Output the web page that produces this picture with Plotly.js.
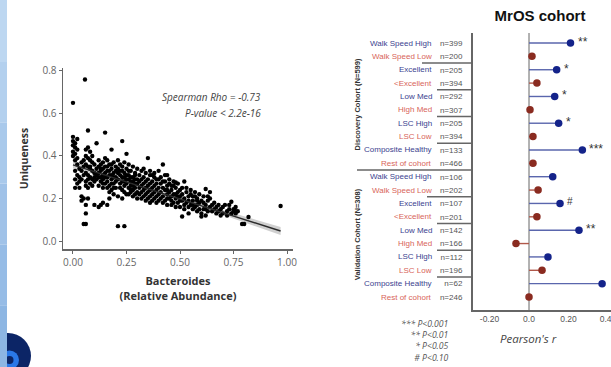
<!DOCTYPE html>
<html>
<head>
<meta charset="utf-8">
<script src="https://cdn.plot.ly/plotly-3.0.1.min.js"></script>
<style>
html,body{margin:0;padding:0;background:#fff;}
#chart{width:611px;height:367px;}
</style>
</head>
<body>
<div id="chart"></div>
<script>
// ---------- Left panel: Bacteroides vs Uniqueness ----------
const bx = [
0.00,0.00,0.00,0.01,0.00,0.01,0.00,0.01,0.00,0.02,0.02,0.01,0.02,0.03,0.02,0.03,0.01,0.02,0.03,0.01,0.04,0.04,0.05,0.04,0.05,0.04,0.04,0.05,0.03,0.05,0.02,0.01,
0.056,0.07,0.05,0.06,0.06,0.06,0.07,0.06,0.07,0.08,0.06,0.07,0.08,0.09,0.06,0.07,0.08,0.09,0.06,0.07,0.08,0.09,0.10,0.10,0.06,0.08,0.09,0.07,0.10,0.10,0.08,0.09,0.10,0.06,0.07,
0.11,0.15,0.12,0.13,0.14,0.16,0.17,0.18,0.12,0.13,0.14,0.15,0.16,0.17,0.18,0.19,0.11,0.12,0.13,0.14,0.15,0.16,0.17,0.18,0.19,0.20,0.11,0.12,0.13,0.14,0.15,0.16,0.17,0.18,0.19,0.20,0.12,0.14,0.16,0.18,0.20,0.13,0.15,0.17,0.19,0.11,0.14,0.16,0.18,0.20,0.19,0.17,0.15,0.12,0.13,0.20,0.18,0.16,0.14,0.19,
0.23,0.21,0.24,0.25,0.21,0.22,0.23,0.24,0.25,0.26,0.27,0.28,0.29,0.30,0.21,0.22,0.23,0.24,0.25,0.26,0.27,0.28,0.29,0.30,0.21,0.22,0.23,0.24,0.25,0.26,0.27,0.28,0.29,0.30,0.22,0.24,0.26,0.28,0.30,0.21,0.23,0.25,0.27,0.29,0.22,0.24,0.26,0.28,0.30,0.23,0.25,0.27,0.29,0.21,0.23,0.26,0.28,0.24,0.27,0.29,
0.35,0.31,0.32,0.33,0.34,0.35,0.36,0.37,0.38,0.39,0.40,0.31,0.32,0.33,0.34,0.35,0.36,0.37,0.38,0.39,0.40,0.31,0.32,0.33,0.34,0.35,0.36,0.37,0.38,0.39,0.40,0.32,0.34,0.36,0.38,0.40,0.33,0.35,0.37,0.39,0.31,0.36,0.33,0.38,0.40,0.34,0.37,0.39,0.32,0.36,
0.42,0.44,0.41,0.42,0.43,0.44,0.45,0.46,0.47,0.48,0.49,0.50,0.41,0.42,0.43,0.44,0.45,0.46,0.47,0.48,0.49,0.50,0.41,0.43,0.45,0.47,0.49,0.42,0.44,0.46,0.48,0.50,0.41,0.43,0.45,0.47,0.49,0.48,0.46,0.44,0.50,0.42,0.44,0.46,0.48,
0.51,0.52,0.51,0.52,0.53,0.54,0.55,0.56,0.57,0.58,0.59,0.60,0.51,0.52,0.53,0.54,0.55,0.56,0.57,0.58,0.59,0.60,0.54,0.53,0.55,0.57,0.59,0.51,0.56,0.58,0.60,0.52,0.54,0.56,0.58,
0.62,0.64,0.62,0.61,0.62,0.63,0.64,0.65,0.66,0.67,0.68,0.69,0.70,0.61,0.63,0.65,0.67,0.69,0.61,0.63,0.66,0.68,0.70,0.64,0.62,
0.72,0.73,0.74,0.75,0.76,0.74,0.757,0.77,0.71,0.72,0.75,0.79,0.80,0.82,0.97,0.76,0.73
];
const uq = [
0.65,0.49,0.47,0.46,0.45,0.44,0.42,0.41,0.40,0.48,0.43,0.38,0.36,0.34,0.31,0.30,0.29,0.27,0.25,0.25,0.33,0.37,0.35,0.29,0.31,0.21,0.19,0.20,0.28,0.38,0.39,0.33,
0.76,0.52,0.08,0.08,0.13,0.17,0.20,0.43,0.44,0.42,0.40,0.39,0.38,0.37,0.36,0.35,0.34,0.33,0.32,0.31,0.30,0.29,0.36,0.32,0.28,0.27,0.26,0.25,0.30,0.28,0.35,0.40,0.17,0.26,0.29,
0.46,0.51,0.16,0.17,0.18,0.17,0.20,0.43,0.38,0.36,0.37,0.35,0.38,0.36,0.34,0.37,0.34,0.32,0.33,0.31,0.32,0.30,0.33,0.31,0.30,0.33,0.29,0.30,0.28,0.29,0.27,0.28,0.26,0.29,0.27,0.28,0.26,0.25,0.25,0.24,0.25,0.34,0.30,0.31,0.32,0.31,0.34,0.33,0.27,0.30,0.22,0.23,0.39,0.35,0.30,0.35,0.36,0.35,0.27,0.25,
0.47,0.07,0.07,0.41,0.38,0.36,0.35,0.37,0.34,0.36,0.33,0.35,0.32,0.34,0.32,0.31,0.33,0.30,0.31,0.29,0.30,0.28,0.29,0.27,0.29,0.27,0.28,0.26,0.27,0.25,0.26,0.24,0.25,0.23,0.25,0.23,0.22,0.21,0.20,0.34,0.30,0.29,0.28,0.27,0.33,0.32,0.31,0.30,0.29,0.24,0.22,0.23,0.22,0.21,0.20,0.33,0.26,0.28,0.24,0.31,
0.39,0.31,0.33,0.30,0.32,0.29,0.31,0.28,0.30,0.27,0.29,0.28,0.26,0.27,0.25,0.26,0.24,0.25,0.23,0.24,0.22,0.25,0.23,0.24,0.22,0.23,0.21,0.22,0.20,0.21,0.19,0.29,0.28,0.27,0.26,0.25,0.21,0.20,0.19,0.18,0.22,0.33,0.34,0.32,0.33,0.19,0.31,0.29,0.20,0.18,
0.36,0.31,0.27,0.25,0.28,0.26,0.27,0.24,0.26,0.25,0.23,0.24,0.23,0.21,0.24,0.22,0.23,0.21,0.22,0.20,0.21,0.19,0.20,0.19,0.20,0.18,0.18,0.18,0.17,0.17,0.16,0.16,0.30,0.31,0.29,0.28,0.27,0.275,0.19,0.20,0.21,0.28,0.24,0.26,0.22,
0.115,0.28,0.22,0.20,0.23,0.21,0.22,0.19,0.21,0.20,0.18,0.19,0.19,0.17,0.18,0.16,0.17,0.15,0.16,0.14,0.15,0.13,0.13,0.25,0.24,0.23,0.22,0.25,0.17,0.17,0.115,0.15,0.19,0.21,0.19,
0.245,0.23,0.12,0.18,0.17,0.19,0.16,0.17,0.15,0.16,0.14,0.15,0.13,0.15,0.14,0.14,0.13,0.12,0.21,0.21,0.18,0.17,0.16,0.20,0.15,
0.14,0.15,0.13,0.14,0.13,0.185,0.143,0.14,0.17,0.12,0.15,0.08,0.08,0.113,0.165,0.16,0.17
];
const fitX = [0, 0.97];
const fitY = [0.358, 0.047];
const bandX = [0, 0.3, 0.6, 0.97];
const bandHi = [0.375, 0.268, 0.175, 0.066];
const bandLo = [0.341, 0.256, 0.159, 0.028];
const sTickVals = [0, 0.25, 0.5, 0.75, 1.0];
const sTickText = ['0.00', '0.25', '0.50', '0.75', '1.00'];
const uTickVals = [0, 0.2, 0.4, 0.6, 0.8];
const uTickText = ['0.0', '0.2', '0.4', '0.6', '0.8'];
const statLines = ['Spearman Rho = -0.73', 'P-value < 2.2e-16'];

// ---------- Right panel: MrOS cohort ----------
const groups = ['Walk Speed High','Walk Speed Low','Excellent','<Excellent','Low Med','High Med','LSC High','LSC Low','Composite Healthy','Rest of cohort',
                'Walk Speed High','Walk Speed Low','Excellent','<Excellent','Low Med','High Med','LSC High','LSC Low','Composite Healthy','Rest of cohort'];
const nLabels = ['n=399','n=200','n=205','n=394','n=292','n=307','n=205','n=394','n=133','n=466',
                 'n=106','n=202','n=107','n=201','n=142','n=166','n=112','n=196','n=62','n=246'];
const pearsonR = [0.21,0.015,0.14,0.04,0.13,0.005,0.15,0.02,0.27,0.02,
                  0.12,0.046,0.157,0.04,0.253,-0.066,0.096,0.066,0.37,0.0];
const sig = ['**','','*','','*','','*','','***','',
             '','','#','','**','','','','',''];
const cohorts = ['Discovery Cohort (N=599)', 'Validation Cohort (N=308)'];
const pTickVals = [-0.2, 0, 0.2, 0.4];
const pTickText = ['-0.20', '0.0', '0.20', '0.40'];
const sigLegend = ['*** P<0.001', '** P<0.01', '* P<0.05', '# P<0.10'];

const W = 611, H = 367;
const px = v => v / W;
const py = v => 1 - v / H;
const esc = s => s.replace(/</g, '&lt;');

const BLUE = '#14238a', BLUE_STEM = '#5a66ad', RED = '#8a2b20', RED_STEM = '#b0584a';
const BLUE_TXT = '#3b3f8f', RED_TXT = '#d8655a';

const rows = groups.map((g, i) => i + 1);
const hiIdx = rows.filter((r, i) => i % 2 === 0).map(r => r - 1);
const loIdx = rows.filter((r, i) => i % 2 === 1).map(r => r - 1);

function stems(idx) {
  const x = [], y = [];
  idx.forEach(i => { x.push(0, pearsonR[i], null); y.push(rows[i], rows[i], null); });
  return {x, y};
}
const sb = stems(hiIdx), sr = stems(loIdx);

const traces = [
  {x: bandX.concat(bandX.slice().reverse()), y: bandHi.concat(bandLo.slice().reverse()),
   type: 'scatter', mode: 'lines', fill: 'toself', fillcolor: 'rgba(150,150,150,0.45)',
   line: {width: 0}, xaxis: 'x', yaxis: 'y', hoverinfo: 'skip', showlegend: false},
  {x: bx, y: uq, type: 'scatter', mode: 'markers', marker: {color: '#000', size: 4.4},
   xaxis: 'x', yaxis: 'y', showlegend: false},
  {x: fitX, y: fitY, type: 'scatter', mode: 'lines', line: {color: '#2b2b2b', width: 1.4},
   xaxis: 'x', yaxis: 'y', showlegend: false},
  {x: sb.x, y: sb.y, type: 'scatter', mode: 'lines', line: {color: BLUE_STEM, width: 1.4},
   xaxis: 'x2', yaxis: 'y2', showlegend: false, hoverinfo: 'skip'},
  {x: sr.x, y: sr.y, type: 'scatter', mode: 'lines', line: {color: RED_STEM, width: 1.4},
   xaxis: 'x2', yaxis: 'y2', showlegend: false, hoverinfo: 'skip'},
  {x: hiIdx.map(i => pearsonR[i]), y: hiIdx.map(i => rows[i]), type: 'scatter', mode: 'markers',
   marker: {color: BLUE, size: 7.5}, xaxis: 'x2', yaxis: 'y2', showlegend: false},
  {x: loIdx.map(i => pearsonR[i]), y: loIdx.map(i => rows[i]), type: 'scatter', mode: 'markers',
   marker: {color: RED, size: 7.5}, xaxis: 'x2', yaxis: 'y2', showlegend: false}
];

const annotations = [];
// stats text
statLines.forEach((t, k) => annotations.push({
  text: esc(t), xref: 'paper', yref: 'paper', x: px(263), y: py(97 + k * 16),
  xanchor: 'right', yanchor: 'middle', showarrow: false,
  font: {family: 'Open Sans', size: 10, color: '#444', style: 'italic'}
}));
// group labels
groups.forEach((g, i) => annotations.push({
  text: esc(g), xref: 'paper', yref: 'y2', x: px(434), y: rows[i],
  xanchor: 'right', yanchor: 'middle', showarrow: false,
  font: {family: 'Liberation Sans', size: 8, color: i % 2 === 0 ? BLUE_TXT : RED_TXT}
}));
// significance marks
sig.forEach((s, i) => { if (s) annotations.push({
  text: s, xref: 'x2', yref: 'y2', x: pearsonR[i], y: rows[i],
  xanchor: 'left', yanchor: 'middle', xshift: 5, yshift: s === '#' ? 2 : 1, showarrow: false,
  font: {family: 'Liberation Sans', size: s === '#' ? 10 : 12, color: '#333'}
}); });
// cohort labels
cohorts.forEach((c, k) => annotations.push({
  text: '<b>' + c + '</b>', xref: 'paper', yref: 'y2', x: px(357), y: k === 0 ? 5.6 : 15.3,
  xanchor: 'center', yanchor: 'middle', textangle: -90, showarrow: false,
  font: {family: 'Liberation Sans', size: 7.5, color: '#333'}
}));
// Pearson's r
annotations.push({text: "Pearson's <i>r</i>", xref: 'paper', yref: 'paper', x: px(528), y: py(338),
  xanchor: 'center', yanchor: 'middle', showarrow: false,
  font: {family: 'Open Sans', size: 11.5, color: '#444', style: 'italic'}});
// significance legend
annotations.push({text: sigLegend.map(esc).join('<br>'), xref: 'paper', yref: 'paper',
  x: px(451), y: py(341), xanchor: 'right', yanchor: 'middle', align: 'right', showarrow: false,
  font: {family: 'Open Sans', size: 8.6, color: '#555', style: 'italic'}});

const shapes = [];
// logo
shapes.push({type: 'circle', xref: 'paper', yref: 'paper', x0: px(-15), x1: px(31), y0: py(379), y1: py(333),
  fillcolor: '#0c2566', line: {width: 0}});
shapes.push({type: 'circle', xref: 'paper', yref: 'paper', x0: px(0), x1: px(19), y0: py(369.5), y1: py(350.5),
  fillcolor: '#2a78e8', line: {width: 0}});
shapes.push({type: 'circle', xref: 'paper', yref: 'paper', x0: px(5.5), x1: px(13.5), y0: py(364), y1: py(356),
  fillcolor: '#0c2566', line: {width: 0}});
// left gradient strip
const stripCols = ['#bdd7f1', '#b3d0ee', '#a9c9eb', '#a0c2e8', '#96bce6', '#8db6e3'];
stripCols.forEach((c, k) => shapes.push({type: 'rect', xref: 'paper', yref: 'paper',
  x0: 0, x1: px(7), y0: 1 - (k + 1) / stripCols.length, y1: 1 - k / stripCols.length,
  fillcolor: c, line: {width: 0}}));
// zero reference line of the Pearson axis
shapes.push({type: 'line', xref: 'x2', yref: 'y2 domain', x0: 0, x1: 0, y0: 0, y1: 1,
  line: {color: '#999', width: 1.5}, layer: 'below'});
// separators
const sepRows = [2.5, 4.5, 6.5, 8.5, 10.5, 12.5, 14.5, 16.5, 18.5];
const sepLeft = [422, 437, 437, 437, 357, 427, 437, 437, 437];
sepRows.forEach((r, k) => shapes.push({type: 'line', xref: 'paper', yref: 'y2',
  x0: px(sepLeft[k]), x1: px(473), y0: r, y1: r, line: {color: '#666', width: 1.5}}));

const layout = {
  width: W, height: H,
  margin: {l: 0, r: 0, t: 0, b: 0},
  paper_bgcolor: '#fff', plot_bgcolor: 'rgba(0,0,0,0)',
  showlegend: false,
  title: {text: '<b>MrOS cohort</b>', x: px(540), y: py(16), xref: 'paper', yref: 'paper',
          xanchor: 'center', yanchor: 'middle',
          font: {family: 'Liberation Sans', size: 15, color: '#111'}},
  xaxis: {domain: [px(63), px(293)], range: [-0.0467, 1.028], tickvals: sTickVals, ticktext: sTickText,
          showgrid: false, zeroline: false, showline: true, linecolor: '#666', linewidth: 1.5,
          ticks: 'outside', ticklen: 3, tickcolor: '#666',
          tickfont: {family: 'Open Sans', size: 10, color: '#666'},
          title: {text: '<b>Bacteroides</b><br><b>(Relative Abundance)</b>', standoff: 10,
                  font: {family: 'Open Sans', size: 11, color: '#333'}},
          anchor: 'y'},
  yaxis: {domain: [1 - 249 / H, 1 - 68 / H], range: [-0.0376, 0.814], tickvals: uTickVals, ticktext: uTickText,
          showgrid: false, zeroline: false, showline: true, linecolor: '#666', linewidth: 1.5,
          ticks: 'outside', ticklen: 3, tickcolor: '#666',
          tickfont: {family: 'Open Sans', size: 10, color: '#666'},
          title: {text: '<b>Uniqueness</b>', standoff: 12,
                  font: {family: 'Open Sans', size: 10.5, color: '#333'}},
          anchor: 'x'},
  xaxis2: {domain: [px(473), 1], range: [-0.2835, 0.415], tickmode: 'array', tickvals: pTickVals, ticktext: pTickText,
           showgrid: false, zeroline: false,
           showline: true, linecolor: '#666', linewidth: 2, ticks: '',
           ticklabeloverflow: 'allow',
           tickfont: {family: 'Liberation Sans', size: 8.5, color: '#555'}, anchor: 'y2'},
  yaxis2: {domain: [1 - 310 / H, 1 - 33 / H], range: [20.97, 0.252], tickvals: rows, ticktext: nLabels,
           showgrid: false, zeroline: false, showline: true, linecolor: '#666', linewidth: 2, ticks: '',
           ticklabelstandoff: 7,
           tickfont: {family: 'Liberation Sans', size: 8, color: '#555'}, anchor: 'x2'},
  annotations: annotations,
  shapes: shapes
};

Plotly.newPlot('chart', traces, layout, {displayModeBar: false, staticPlot: true});
</script>
</body>
</html>
